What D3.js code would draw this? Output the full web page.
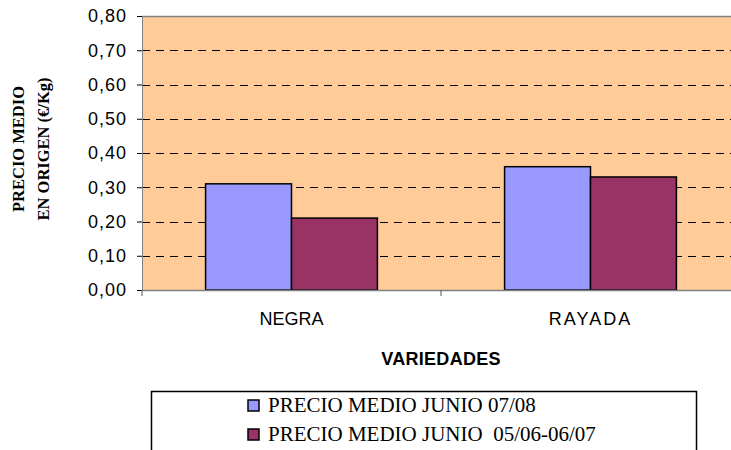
<!DOCTYPE html>
<html>
<head>
<meta charset="utf-8">
<script src="https://cdn.jsdelivr.net/npm/d3@7"></script>
<style>
  body { margin: 0; background: #fff; }
  svg { display: block; }
</style>
</head>
<body>
<div id="chart"></div>
<script>
// data
var categories = ["NEGRA", "RAYADA"];
var seriesNames = ["PRECIO MEDIO JUNIO 07/08", "PRECIO MEDIO JUNIO  05/06-06/07"];
var preciosActual = [0.31, 0.36];
var preciosAnterior = [0.21, 0.33];
var yTicks = [0, 0.1, 0.2, 0.3, 0.4, 0.5, 0.6, 0.7, 0.8];

var colors = ["#9999ff", "#993366"];

// dimensions: plot area runs past the right edge, as in the original
var margin = {top: 16, left: 142},
    width = 598,
    height = 274;

var svg = d3.select("#chart").append("svg")
    .attr("width", 731)
    .attr("height", 450);

var g = svg.append("g")
    .attr("transform", "translate(" + margin.left + "," + margin.top + ")");

var x = d3.scaleBand().domain(categories).range([0, width]);
var x1 = d3.scaleBand().domain([0, 1]).range([0, x.bandwidth()]).paddingOuter(0.74).paddingInner(0);
var y = d3.scaleLinear().domain([0, 0.8]).range([height, 0]);

// plot background
g.append("rect")
    .attr("width", width)
    .attr("height", height)
    .attr("fill", "#ffcc99");

// dashed grid
g.append("g")
  .selectAll("line")
  .data(yTicks.filter(function(d) { return d > 0 && d < 0.8; }))
  .enter().append("line")
    .attr("x1", 0).attr("x2", width)
    .attr("y1", function(d) { return Math.round(y(d)) + 0.5; })
    .attr("y2", function(d) { return Math.round(y(d)) + 0.5; })
    .attr("stroke", "#000")
    .attr("stroke-dasharray", "8,6")
    .attr("stroke-width", 1);

// top border
g.append("line")
    .attr("x1", 0).attr("x2", width)
    .attr("y1", 0.5).attr("y2", 0.5)
    .attr("stroke", "#808080").attr("stroke-width", 1.5);

// bars
var rows = categories.map(function(c, i) {
  return {cat: c, vals: [preciosActual[i], preciosAnterior[i]]};
});

g.selectAll(".grp")
  .data(rows)
  .enter().append("g")
    .attr("transform", function(d) { return "translate(" + x(d.cat) + ",0)"; })
  .selectAll("rect")
  .data(function(d) { return d.vals; })
  .enter().append("rect")
    .attr("x", function(d, i) { return x1(i); })
    .attr("y", function(d) { return y(d); })
    .attr("width", x1.bandwidth())
    .attr("height", function(d) { return height - y(d); })
    .attr("fill", function(d, i) { return colors[i]; })
    .attr("stroke", "#000")
    .attr("stroke-width", 1.5);

// Y axis
var yAxis = g.append("g")
    .call(d3.axisLeft(y).tickValues(yTicks).tickSize(5).tickPadding(10)
      .tickFormat(function(d) { return d3.format(".2f")(d).replace(".", ","); }));
yAxis.select(".domain").attr("stroke", "#808080");
yAxis.selectAll(".tick line").attr("stroke", "#000");
yAxis.selectAll("text")
    .attr("font-family", "Liberation Sans, Arial, sans-serif")
    .attr("font-size", 18)
    .attr("letter-spacing", 1)
    .attr("fill", "#000");

// X axis
var xAxis = g.append("g")
    .attr("transform", "translate(0," + height + ")")
    .call(d3.axisBottom(x).tickSize(0).tickPadding(22));
xAxis.select(".domain").attr("stroke", "#808080").attr("stroke-width", 1.5);
xAxis.selectAll("text")
    .attr("font-family", "Liberation Sans, Arial, sans-serif")
    .attr("font-size", 18)
    .attr("fill", "#000")
    .attr("letter-spacing", function(d) { return d === "RAYADA" ? 2 : 0; });

// category separators
g.append("g")
  .selectAll("line")
  .data([0, width / 2])
  .enter().append("line")
    .attr("x1", function(d) { return d; }).attr("x2", function(d) { return d; })
    .attr("y1", height).attr("y2", height + 6)
    .attr("stroke", "#555");

// axis titles
svg.append("text")
    .attr("x", 441).attr("y", 365)
    .attr("text-anchor", "middle")
    .attr("font-family", "Liberation Sans, Arial, sans-serif")
    .attr("font-weight", "bold")
    .attr("font-size", 18)
    .attr("letter-spacing", 0.3)
    .text("VARIEDADES");

var yTitle = svg.append("text")
    .attr("transform", "translate(0,149) rotate(-90)")
    .attr("text-anchor", "middle")
    .attr("font-family", "Liberation Serif, Times New Roman, serif")
    .attr("font-weight", "bold")
    .attr("font-size", 16.5);
yTitle.append("tspan").attr("x", 0).attr("y", 24).text("PRECIO MEDIO");
yTitle.append("tspan").attr("x", 0).attr("y", 49).text("EN ORIGEN (€/Kg)");

// legend
var legend = svg.append("g");
legend.append("rect")
    .attr("x", 151.5).attr("y", 391.5)
    .attr("width", 545).attr("height", 80)
    .attr("fill", "#fff").attr("stroke", "#000").attr("stroke-width", 1.5);

var items = legend.selectAll(".item")
  .data(seriesNames)
  .enter().append("g")
    .attr("transform", function(d, i) { return "translate(248," + (400 + i * 29) + ")"; });
items.append("rect")
    .attr("width", 11).attr("height", 11)
    .attr("fill", function(d, i) { return colors[i]; })
    .attr("stroke", "#000").attr("stroke-width", 1.5);
items.append("text")
    .attr("x", 20).attr("y", 12)
    .attr("font-family", "Liberation Serif, Times New Roman, serif")
    .attr("font-size", 21)
    .attr("xml:space", "preserve")
    .style("white-space", "pre")
    .text(function(d) { return d; });
</script>
</body>
</html>
